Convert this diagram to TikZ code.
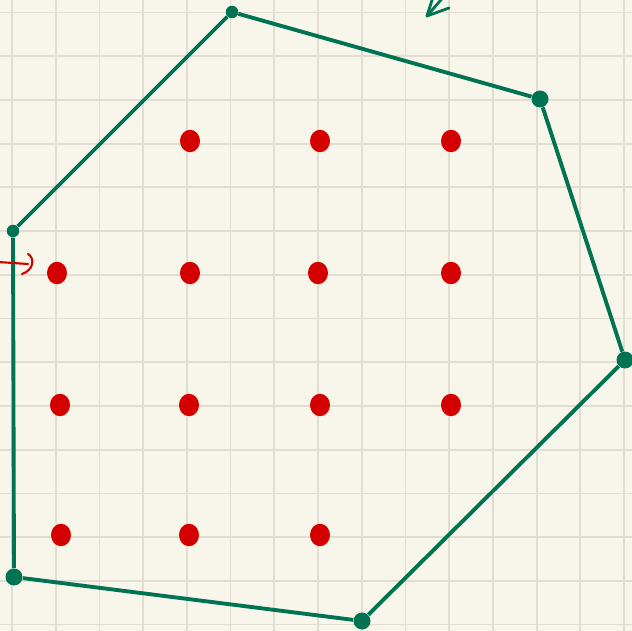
\documentclass[tikz,border=0pt]{standalone}
\usepackage{tikz}
\usetikzlibrary{shapes,arrows,positioning}
\definecolor{paper}{RGB}{248,246,234}
\definecolor{gridline}{RGB}{225,222,209}
\definecolor{inkgreen}{RGB}{0,115,82}
\definecolor{inkred}{RGB}{212,0,0}

\begin{document}
\begin{tikzpicture}[
    x=0.02cm, y=-0.02cm,
    bigvertex/.style={circle, fill=inkgreen, inner sep=0pt, minimum size=0.34cm},
    smallvertex/.style={circle, fill=inkgreen, inner sep=0pt, minimum size=0.25cm},
    latticept/.style={ellipse, fill=inkred, inner sep=0pt, minimum width=0.4cm, minimum height=0.45cm},
    hulledge/.style={draw=inkgreen, line width=2.2pt, line join=round},
    gridrule/.style={draw=gridline, line width=1pt},
    scribble/.style={line width=1.2pt, line cap=round, line join=round}
]
% paper and grid
\fill[paper] (0,0) rectangle (632,631);
\useasboundingbox (0,0) rectangle (632,631);
\clip (0,0) rectangle (632,631);
\foreach \i in {0,...,14} {
    \draw[gridrule] ({12+43.72*\i},0) -- ({12+43.72*\i},631);
    \draw[gridrule] (0,{12.5+43.72*\i}) -- (632,{12.5+43.72*\i});
}

% hull vertices
\node[smallvertex] (A) at (232,12) {};
\node[bigvertex] (B) at (540,99) {};
\node[bigvertex] (C) at (625,360) {};
\node[bigvertex] (D) at (362,621) {};
\node[bigvertex] (E) at (14,577) {};
\node[smallvertex] (F) at (13,231) {};

\draw[hulledge] (A) -- (B);
\draw[hulledge] (B) -- (C);
\draw[hulledge] (C) -- (D);
\draw[hulledge] (D) -- (E);
\draw[hulledge] (E) -- (F);
\draw[hulledge] (F) -- (A);

% lattice points
\foreach \x/\n in {190/1, 320/2, 451/3}
    \node[latticept] (p1\n) at (\x,141) {};
\foreach \x/\n in {57/0, 190/1, 318/2, 451/3}
    \node[latticept] (p2\n) at (\x,273) {};
\foreach \x/\n in {60/0, 189/1, 320/2, 451/3}
    \node[latticept] (p3\n) at (\x,405) {};
\foreach \x/\n in {61/0, 189/1, 320/2}
    \node[latticept] (p4\n) at (\x,535) {};

% pen marks
\coordinate (tip) at (427,16);
\draw[scribble, draw=inkgreen, line width=1.6pt] (433,-3) -- (tip) -- (449,8);
\draw[scribble, draw=inkgreen, line width=1.6pt] (tip) -- (446,-6);
\draw[scribble, draw=inkred] (-2,262) -- (28,264);
\draw[scribble, draw=inkred] (28,254) .. controls (35,258) and (34,270) .. (22,274);
\end{tikzpicture}
\end{document}
